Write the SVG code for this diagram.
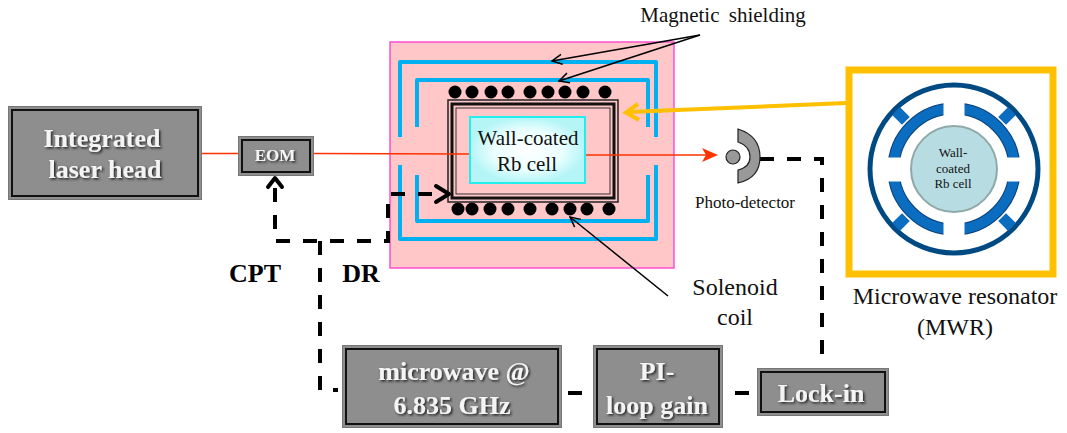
<svg xmlns="http://www.w3.org/2000/svg" width="1067" height="433" viewBox="0 0 1067 433">
<style>
text{font-family:"Liberation Serif","Times New Roman",serif;fill:#111;text-anchor:middle}
.bx{fill:#8e8e8e;stroke:#777;stroke-width:1}
.fr{fill:none;stroke:#111;stroke-width:2}
.bt{font-weight:bold;fill:#f4f4f4;font-size:26px;filter:url(#sh)}
.lb{font-size:21px}
.big{font-size:24px}
.blue{fill:none;stroke:#00b0f0;stroke-width:4;stroke-linejoin:round}
.dash{fill:none;stroke:#000;stroke-width:4;stroke-dasharray:14 13}
.red{stroke:#ff3300;stroke-width:1.5;fill:none}
.thin{stroke:#000;stroke-width:1.5;fill:none}
.coil{fill:#000}
.ab{fill:none;stroke:#000;stroke-width:4;stroke-linecap:round;stroke-linejoin:round}
</style>
<defs>
<filter id="sh" x="-10%" y="-20%" width="120%" height="140%"><feDropShadow dx="1.5" dy="1.5" stdDeviation="0.8" flood-color="#222"/></filter>
<radialGradient id="cg"><stop offset="0" stop-color="#fff"/><stop offset="0.6" stop-color="#eaffff"/><stop offset="1" stop-color="#b5f5f7"/></radialGradient>
<marker id="op" markerWidth="12" markerHeight="12" refX="11" refY="6" orient="auto" markerUnits="userSpaceOnUse"><path d="M1 1L11 6L1 11" fill="none" stroke="#000" stroke-width="1.5"/></marker>
</defs>
<g id="shield-box">
<rect x="390" y="42" width="284" height="226" fill="#ffc7c7" stroke="#ff4fd0" stroke-width="1.5"/>
<path class="blue" d="M400 137V62H656V137M400 165V239H656V165"/>
<path class="blue" d="M417 127V80H648V127M417 175V221H648V175"/>
</g>
<g id="coil-top" class="coil">
<circle cx="455" cy="92" r="6.5"/><circle cx="472" cy="92" r="6.5"/><circle cx="491" cy="92" r="6.5"/><circle cx="508" cy="92" r="6.5"/><circle cx="530" cy="92" r="6.5"/><circle cx="548" cy="92" r="6.5"/><circle cx="565" cy="92" r="6.5"/><circle cx="583" cy="92" r="6.5"/><circle cx="605" cy="92" r="6.5"/>
</g>
<g id="coil-bottom" class="coil">
<circle cx="458" cy="209" r="6.5"/><circle cx="472" cy="209" r="6.5"/><circle cx="490" cy="209" r="6.5"/><circle cx="508" cy="209" r="6.5"/><circle cx="530" cy="209" r="6.5"/><circle cx="552" cy="209" r="6.5"/><circle cx="570" cy="209" r="6.5"/><circle cx="587" cy="209" r="6.5"/><circle cx="609" cy="209" r="6.5"/>
</g>
<g id="cell-frame" fill="none">
<rect x="448" y="100" width="170" height="102" stroke="#222" stroke-width="1.5"/>
<rect x="452" y="104" width="162" height="94" stroke="#111" stroke-width="3"/>
<rect x="456" y="108" width="154" height="86" stroke="#333" stroke-width="1"/>
</g>
<g id="connectors">
<path class="red" d="M201 153.500H238M313 153.500L470 154M585 155L712 155"/>
<path d="M718 155L702 148L706 155L702 162Z" fill="#ff3300"/>
<path class="dash" d="M275 188V241H388V194H440"/>
<path class="ab" d="M268 187L275 178L282 187"/>
<path class="ab" d="M436 186L449 194L436 202"/>
<path class="dash" d="M320 241V390H338"/>
<path class="dash" d="M568 393H584M735 393H750" stroke-dasharray="none"/>
<path class="dash" d="M760 159H822V365"/>
<path class="thin" marker-end="url(#op)" d="M700 35L552 61"/>
<path class="thin" marker-end="url(#op)" d="M700 35L559 81"/>
<path class="thin" marker-end="url(#op)" d="M668 296L570 217"/>
<path fill="none" stroke="#ffc000" stroke-width="4" d="M846 103L628 112"/>
<path fill="none" stroke="#ffc000" stroke-width="4" d="M638 104L626 112.500L639 120"/>
</g>
<g id="laser"><rect class="bx" x="8.500" y="106.500" width="193" height="93"/><rect class="fr" x="12" y="110" width="186" height="86"/>
<text class="bt" x="102" y="147">Integrated</text><text class="bt" x="105" y="178">laser head</text></g>
<g id="eom"><rect class="bx" x="238.500" y="136.500" width="75" height="39"/><rect class="fr" x="242" y="140" width="68" height="32"/>
<text class="bt" style="font-size:17px" x="275" y="161">EOM</text></g>
<g id="cell"><rect x="470" y="117" width="115" height="66" fill="url(#cg)" stroke="#22eeee" stroke-width="2"/>
<text class="lb" x="528" y="145">Wall-coated</text><text class="lb" x="527" y="171">Rb cell</text></g>
<g id="detector">
<circle cx="733" cy="157" r="7" fill="#999" stroke="#222" stroke-width="1.2"/>
<path d="M738 129Q760 136 760 157Q760 178 738 183V170Q750 167 750 157Q750 146 738 142Z" fill="#999" stroke="#222" stroke-width="1.2"/>
<text style="font-size:17px" x="745" y="208">Photo-detector</text></g>
<g id="microwave"><rect class="bx" x="342.500" y="345.500" width="219" height="82"/><rect class="fr" x="346" y="349" width="212" height="75"/>
<text class="bt" x="454" y="380">microwave @</text><text class="bt" x="452" y="414">6.835 GHz</text></g>
<g id="pi"><rect class="bx" x="593.500" y="345.500" width="129" height="82"/><rect class="fr" x="597" y="349" width="122" height="75"/>
<text class="bt" x="657" y="380">PI-</text><text class="bt" x="657" y="414">loop gain</text></g>
<g id="lockin"><rect class="bx" x="757.500" y="368.500" width="131" height="47"/><rect class="fr" x="761" y="372" width="124" height="40"/>
<text class="bt" x="821" y="402">Lock-in</text></g>
<g id="mwr">
<rect x="849" y="70" width="204" height="204" fill="#fff" stroke="#ffc000" stroke-width="7"/>
<circle cx="954" cy="169" r="84" fill="none" stroke="#004a84" stroke-width="5"/>
<g stroke="#0b6dbf" stroke-width="11"><path d="M905.900 120.900L896 111M1002.100 120.900L1012 111M905.900 217.100L896 227M1002.100 217.100L1012 227"/></g>
<circle cx="954" cy="169" r="60.500" fill="none" stroke="#0b3f78" stroke-width="12"/>
<circle cx="954" cy="169" r="60.500" fill="none" stroke="#0b6dbf" stroke-width="10"/>
<rect x="943.500" y="100" width="21" height="30" fill="#fff"/><rect x="943.500" y="208" width="21" height="30" fill="#fff"/>
<rect x="885" y="157.500" width="30" height="24" fill="#fff"/><rect x="993" y="157.500" width="30" height="24" fill="#fff"/>
<circle cx="954" cy="169" r="43" fill="#b7dde3" stroke="#8fa8a8" stroke-width="2"/>
<text style="font-size:13px" x="953" y="157">Wall-</text><text style="font-size:13px" x="953" y="173">coated</text><text style="font-size:13px" x="953" y="188">Rb cell</text></g>
<g id="labels">
<text class="lb" style="word-spacing:4px" x="723" y="22">Magnetic shielding</text>
<text class="big" x="735" y="295">Solenoid</text><text class="big" x="735" y="325">coil</text>
<text class="big" x="955" y="304">Microwave resonator</text><text class="big" x="955" y="335">(MWR)</text>
<text x="255" y="282" style="font-size:26px;font-weight:bold;fill:#000">CPT</text>
<text x="361" y="282" style="font-size:26px;font-weight:bold;fill:#000">DR</text>
</g>
</svg>
